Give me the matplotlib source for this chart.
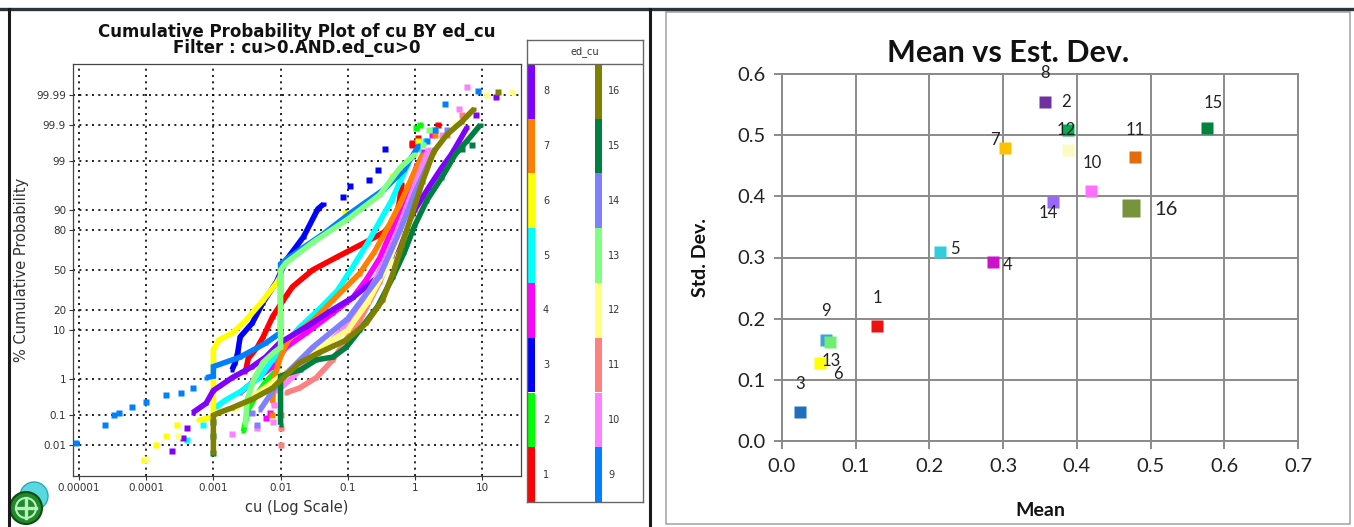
import numpy as np
import matplotlib
matplotlib.use("Agg")
import matplotlib.pyplot as plt
from matplotlib.patches import Rectangle, Circle
from matplotlib.lines import Line2D
from matplotlib.ticker import NullLocator, FixedLocator, FixedFormatter, FormatStrFormatter
from statistics import NormalDist

W, H, DPI = 1354, 527, 100

# ---------------------------------------------------------------------------
# Cumulative probability curves of cu, one per ed_cu domain: (cu, cumulative %)
# ---------------------------------------------------------------------------
domains = list(range(1, 17))
domain_colors = ['#ff0000', '#00ff00', '#0000ff', '#ff00ff', '#00ffff', '#ffff00',
                 '#ff8000', '#8000ff', '#0080ff', '#ff80ff', '#ff8080', '#ffff80',
                 '#80ff80', '#8080ff', '#008040', '#808000']

curve_1 = [(0.003, 1.5), (0.0033, 3), (0.0045, 5), (0.0055, 7.7), (0.0076, 16), (0.011, 26),
           (0.015, 36), (0.03, 50), (0.07, 61), (0.18, 72), (0.35, 79), (0.5, 86), (0.58, 92),
           (0.64, 96.6)]
tail_1 = [(0.9, 99.6), (0.92, 99.65), (1.1, 99.75), (2.2, 99.9)]

curve_2 = [(0.0028, 0.03), (0.003, 0.06), (0.0033, 0.15), (0.0042, 0.35), (0.0058, 0.8),
           (0.0085, 1.6)]
tail_2 = [(1.05, 99.87), (1.2, 99.9)]

curve_3 = [(0.0019, 1.7), (0.0021, 2.4), (0.0023, 3.9), (0.0025, 7.7), (0.0038, 13),
           (0.0054, 24), (0.0087, 40), (0.012, 58), (0.022, 76), (0.036, 90.3), (0.044, 92)]
tail_3 = [(0.084, 94), (0.107, 96.3), (0.206, 97.2), (0.28, 98.3), (0.36, 99.5)]

curve_4 = [(0.0025, 0.45), (0.0043, 1), (0.0076, 2), (0.012, 5), (0.024, 9), (0.06, 18),
           (0.12, 28), (0.19, 42), (0.3, 60), (0.45, 80), (0.6, 90), (0.8, 96), (1.1, 98.8)]
tail_4 = [(0.006, 0.08), (0.007, 0.12), (1.3, 99.4), (1.8, 99.8)]

curve_5 = [(0.0011, 0.18), (0.0015, 0.28), (0.0025, 0.48), (0.0049, 1.1), (0.0076, 2.8),
           (0.012, 6), (0.019, 11), (0.037, 20), (0.07, 33), (0.12, 53), (0.2, 72), (0.3, 85),
           (0.45, 93), (0.6, 97), (0.8, 98.8)]
tail_5 = [(0.0004, 0.015), (0.0007, 0.05), (1.1, 99.5), (1.4, 99.7), (2.0, 99.85)]

curve_6 = [(0.0006, 0.07), (0.001, 0.09), (0.001, 1), (0.001, 4.5), (0.0012, 6.8), (0.0019, 9),
           (0.003, 14), (0.0055, 26), (0.0087, 39), (0.01, 45)]
tail_6 = [(0.000094, 0.0027), (0.00014, 0.01), (0.0002, 0.02), (0.00029, 0.05), (0.09, 88.7),
          (0.46, 97.7), (1.1, 99.7)]

curve_7 = [(0.0076, 0.23), (0.008, 1), (0.0096, 2.8), (0.013, 7), (0.03, 14), (0.06, 26),
           (0.15, 47), (0.25, 65), (0.4, 82), (0.6, 92), (0.9, 97.5), (1.3, 99.3)]
tail_7 = [(0.0075, 0.1), (2.0, 99.8)]

curve_8 = [(0.00049, 0.12), (0.00078, 0.23), (0.001, 0.52), (0.0019, 1.1), (0.0038, 2),
           (0.006, 3.2), (0.0096, 6), (0.024, 11.3), (0.06, 20), (0.12, 28), (0.28, 44),
           (0.45, 62), (0.7, 80), (1.0, 90), (1.6, 96), (2.5, 98.5), (3.5, 99.3), (4.6, 99.7),
           (6, 99.88)]
tail_8 = [(0.00024, 0.006), (0.00035, 0.0175), (0.0004, 0.04), (8, 99.95), (16, 99.988)]

curve_9 = [(0.00078, 1.1), (0.001, 1.2), (0.001, 2), (0.0025, 3.2), (0.006, 6), (0.009, 8.4),
           (0.01, 9), (0.01, 55), (0.0137, 61), (0.044, 78), (0.11, 88.7), (0.35, 95.7),
           (0.7, 98.4), (1.15, 99.6)]
tail_9 = [(0.000009, 0.012), (0.000024, 0.05), (0.000033, 0.1), (0.00004, 0.12),
          (0.000062, 0.18), (0.0001, 0.25), (0.0002, 0.4), (0.00033, 0.45), (0.0005, 0.6),
          (1.5, 99.7), (2.0, 99.85), (2.8, 99.98), (8.8, 99.993)]

curve_10 = [(0.009, 0.5), (0.03, 3), (0.1, 12), (0.25, 40), (0.5, 75), (0.9, 95), (1.6, 99.5)]
tail_10 = [(0.0019, 0.025), (0.0045, 0.04), (0.0076, 0.06), (0.008, 0.2), (2.5, 99.8),
           (4.5, 99.97), (6, 99.995)]

curve_11 = [(0.012, 0.45), (0.019, 0.6), (0.034, 1.1), (0.06, 2.8), (0.095, 7), (0.15, 14),
            (0.3, 40), (0.5, 70), (0.8, 90), (1.2, 97), (2, 99.5)]
tail_11 = [(0.01, 0.01), (0.01, 0.04), (0.01, 0.1), (3, 99.8), (5, 99.95)]

curve_12 = [(0.002, 0.15), (0.005, 0.5), (0.01, 1.2), (0.03, 4), (0.1, 10), (0.2, 25),
            (0.4, 55), (0.7, 85), (1.2, 97), (2, 99.5)]
tail_12 = [(0.0001, 0.003), (0.0003, 0.02), (4, 99.9), (12, 99.99), (28, 99.992)]

curve_13 = [(0.003, 0.05), (0.0032, 0.3), (0.004, 1), (0.0055, 2.5), (0.008, 4), (0.01, 5),
            (0.01, 50), (0.012, 56), (0.03, 72), (0.1, 86), (0.3, 94.5), (0.6, 98.5),
            (1.0, 99.3)]
tail_13 = [(1.3, 99.6), (1.6, 99.85)]

curve_14 = [(0.005, 0.15), (0.01, 1), (0.03, 5), (0.1, 15), (0.3, 45), (0.6, 80), (1, 95),
            (2, 99.5)]
tail_14 = [(0.0038, 0.12), (0.0045, 0.05), (3, 99.85)]

curve_15 = [(0.01, 0.05), (0.01, 1.2), (0.013, 1.4), (0.02, 1.7), (0.034, 2.8), (0.06, 3.2),
            (0.095, 5), (0.15, 10), (0.28, 22), (0.47, 44), (0.7, 65), (1, 83), (1.5, 93),
            (2.5, 97.5), (4, 99.3), (6, 99.7), (9.5, 99.9)]
tail_15 = [(0.001, 0.005), (0.001, 0.02), (0.001, 0.06), (5, 99.5), (7, 99.6)]

curve_16 = [(0.001, 0.005), (0.001, 0.1), (0.0012, 0.12), (0.0019, 0.17), (0.0038, 0.3),
            (0.0076, 0.6), (0.011, 1.1), (0.019, 2.4), (0.037, 3.9), (0.095, 6.8), (0.19, 13),
            (0.33, 26), (0.47, 47), (0.64, 70), (0.9, 88), (1.3, 97), (1.9, 99.4), (3, 99.8),
            (5, 99.92), (7.7, 99.97)]
tail_16 = [(17, 99.992)]

curves = [curve_1, curve_2, curve_3, curve_4, curve_5, curve_6, curve_7, curve_8,
          curve_9, curve_10, curve_11, curve_12, curve_13, curve_14, curve_15, curve_16]
tails = [tail_1, tail_2, tail_3, tail_4, tail_5, tail_6, tail_7, tail_8,
         tail_9, tail_10, tail_11, tail_12, tail_13, tail_14, tail_15, tail_16]

prob_ticks = [0.01, 0.1, 1, 10, 20, 50, 80, 90, 99, 99.9, 99.99]
prob_tick_labels = ['0.01', '0.1', '1', '10', '20', '50', '80', '90', '99', '99.9', '99.99']
cu_ticks = [0.00001, 0.0001, 0.001, 0.01, 0.1, 1, 10]
cu_tick_labels = ['0.00001', '0.0001', '0.001', '0.01', '0.1', '1', '10']

# ---------------------------------------------------------------------------
# Mean vs standard deviation per domain
# ---------------------------------------------------------------------------
stat_domain = [1, 2, 3, 4, 5, 6, 7, 8, 9, 10, 11, 12, 13, 14, 15, 16]
stat_mean = [0.129, 0.388, 0.024, 0.286, 0.214, 0.052, 0.303, 0.357,
             0.060, 0.419, 0.479, 0.388, 0.065, 0.368, 0.577, 0.474]
stat_std = [0.188, 0.508, 0.047, 0.292, 0.309, 0.127, 0.479, 0.554,
            0.165, 0.408, 0.464, 0.475, 0.162, 0.390, 0.511, 0.381]
stat_colors = ['#ee1111', '#00b050', '#1f6fc0', '#cc11cc', '#33ccdd', '#ffff00', '#ffc000',
               '#7030a0', '#40a0e0', '#ff70ff', '#e46c0a', '#fcfac4', '#70ee70', '#9966ff',
               '#00843c', '#77933c']
# label offsets in pixels from each marker
label_offsets = [(0, 28), (-2, 28), (0, 28), (15, -3), (15, 3), (18, -11), (-10, 8), (0, 29),
                 (0, 29), (1, 28), (0, 27), (-2, 20), (1, -19), (-5, -11), (6, 25), (35, -2)]


def px_rect(x0, y0, x1, y1):
    """Figure-fraction rectangle from pixel box (top-left origin)."""
    return [x0 / W, 1 - y1 / H, (x1 - x0) / W, (y1 - y0) / H]


fig = plt.figure(figsize=(W / DPI, H / DPI), dpi=DPI)
fig.patch.set_facecolor('white')

# ---------------- probability plot ----------------
nd = NormalDist()
_inv = np.vectorize(nd.inv_cdf, otypes=[float])
_cdf = np.vectorize(nd.cdf, otypes=[float])


def pct_to_z(p):
    p = np.asarray(p, dtype=float)
    q = np.clip(p / 100.0, 1e-12, 1 - 1e-12)
    return _inv(q)


def z_to_pct(z):
    return 100.0 * _cdf(np.asarray(z, dtype=float))


sans = ['DejaVu Sans']
ax1 = fig.add_axes(px_rect(73, 64, 521, 476))
ax1.set_xscale('log')
ax1.set_yscale('function', functions=(pct_to_z, z_to_pct))

for i, dom in enumerate(domains):
    cu, pc = zip(*curves[i])
    ax1.plot(cu, pc, '-', color=domain_colors[i], lw=4.0, solid_capstyle='butt',
             solid_joinstyle='miter', marker='s', ms=3.0, mec='none', zorder=3 + i * 0.01)
    if tails[i]:
        tc, tp = zip(*tails[i])
        ax1.plot(tc, tp, 's', color=domain_colors[i], ms=4.0, mec='none', ls='none',
                 zorder=3 + i * 0.01)

ax1.set_xlim(10 ** -5.09, 10 ** 1.58)
ax1.set_ylim(z_to_pct(-4.38), z_to_pct(4.38))
ax1.xaxis.set_major_locator(FixedLocator(cu_ticks))
ax1.xaxis.set_major_formatter(FixedFormatter(cu_tick_labels))
ax1.xaxis.set_minor_locator(NullLocator())
ax1.yaxis.set_major_locator(FixedLocator(prob_ticks))
ax1.yaxis.set_major_formatter(FixedFormatter(prob_tick_labels))
ax1.yaxis.set_minor_locator(NullLocator())
ax1.grid(True, which='major', color='black', lw=1.2, ls=(0, (1.2, 2.6)), zorder=1)
ax1.set_axisbelow(True)
ax1.tick_params(axis='both', direction='out', length=3, width=0.8, color='#333333',
                labelsize=7.5, labelcolor='#333333', pad=2)
for lab in ax1.get_xticklabels() + ax1.get_yticklabels():
    lab.set_fontfamily(sans)
for sp in ax1.spines.values():
    sp.set_color('#444444')
    sp.set_linewidth(0.9)
ax1.set_xlabel('cu (Log Scale)', fontsize=10.5, family=sans, color='#333333', labelpad=5)
ax1.set_ylabel('% Cumulative Probability', fontsize=10.5, family=sans, color='#333333',
               labelpad=5)

fig.text(297 / W, 1 - 32 / H, 'Cumulative Probability Plot of cu BY ed_cu', ha='center',
         va='center', fontsize=12, fontweight='bold', family=sans, color='#111111')
fig.text(297 / W, 1 - 48 / H, 'Filter : cu>0.AND.ed_cu>0', ha='center', va='center',
         fontsize=12, fontweight='bold', family=sans, color='#111111')

# ---------------- domain colour key ----------------
axk = fig.add_axes(px_rect(527, 40, 643, 502))
axk.set_xlim(527, 643)
axk.set_ylim(502, 40)
axk.set_xticks([])
axk.set_yticks([])
for sp in axk.spines.values():
    sp.set_color('#666666')
    sp.set_linewidth(1.0)
axk.axhline(64, color='#666666', lw=1.0)
axk.text(585, 52, 'ed_cu', ha='center', va='center', fontsize=7, family=sans, color='#333333')
row_h = (502 - 64) / 8
for i, dom in enumerate(domains):
    col = 0 if dom <= 8 else 1
    row = 7 - ((dom - 1) % 8)
    x0 = 528 if col == 0 else 595
    y0 = 64 + row * row_h
    axk.add_patch(Rectangle((x0, y0), 7, row_h, facecolor=domain_colors[i], edgecolor='none'))
    axk.text(x0 + 15 if col == 0 else x0 + 13, y0 + row_h / 2, str(dom), ha='left',
             va='center', fontsize=7, family=sans, color='#333333')

# ---------------- mean vs std scatter ----------------
calib = ['Lato', 'DejaVu Sans']
ax2 = fig.add_axes(px_rect(782, 74, 1298, 441))
for i, dom in enumerate(stat_domain):
    big = dom == 16
    ax2.plot(stat_mean[i], stat_std[i], 's', color=stat_colors[i], ms=12.5 if big else 9,
             mec='none', zorder=3)
for i, dom in enumerate(stat_domain):
    dx, dy = label_offsets[i]
    ax2.annotate(str(dom), (stat_mean[i], stat_std[i]), xytext=(dx, dy),
                 textcoords='offset pixels', ha='center', va='center',
                 fontsize=14.5 if dom == 16 else 12, family=calib, color='#222222', zorder=4)

ax2.set_xlim(0, 0.7)
ax2.set_ylim(0, 0.6)
ax2.set_xticks(np.arange(0, 0.71, 0.1))
ax2.set_yticks(np.arange(0, 0.61, 0.1))
ax2.xaxis.set_major_formatter(FormatStrFormatter('%.1f'))
ax2.yaxis.set_major_formatter(FormatStrFormatter('%.1f'))
ax2.grid(True, color='#8a8a8a', lw=1.4, zorder=1)
ax2.set_axisbelow(True)
ax2.tick_params(axis='both', direction='out', length=6, width=1.4, color='#8a8a8a',
                labelsize=14.5, labelcolor='#222222', pad=6)
for lab in ax2.get_xticklabels() + ax2.get_yticklabels():
    lab.set_fontfamily(calib)
for sp in ax2.spines.values():
    sp.set_color('#8a8a8a')
    sp.set_linewidth(1.4)
ax2.set_xlabel('Mean', fontsize=14, fontweight='bold', family=calib, color='#111111',
               labelpad=20)
ax2.set_ylabel('Std. Dev.', fontsize=14, fontweight='bold', family=calib, color='#111111',
               labelpad=20)
fig.text(1008 / W, 1 - 53 / H, 'Mean vs Est. Dev.', ha='center', va='center', fontsize=22,
         fontweight='bold', family=calib, color='#111111')

# ---------------- panel frames and badge ----------------
axo = fig.add_axes([0, 0, 1, 1], zorder=10)
axo.set_xlim(0, W)
axo.set_ylim(H, 0)
axo.axis('off')
axo.patch.set_alpha(0)
axo.add_line(Line2D([0, W], [9, 9], color='#2b333b', lw=2.4))
axo.add_line(Line2D([8.5, 8.5], [9, H], color='#1a1a1a', lw=2.2))
axo.add_line(Line2D([650, 650], [9, H], color='#1a1a1a', lw=2.2))
axo.add_patch(Rectangle((666, 12), 684, 512, facecolor='none', edgecolor='#a0a0a0', lw=1.1))
axo.add_patch(Circle((34, 496), 14, facecolor='#5ad8e0', edgecolor='#2aa8b8', lw=1.0))
axo.add_patch(Circle((26, 508), 16, facecolor='#1f8a2a', edgecolor='#0c4d12', lw=1.5))
axo.add_line(Line2D([16, 36], [508, 508], color='#b8f0c0', lw=2.4))
axo.add_line(Line2D([26, 26], [498, 518], color='#b8f0c0', lw=2.4))
axo.add_patch(Circle((26, 508), 10, facecolor='none', edgecolor='#b8f0c0', lw=1.5))

fig.savefig('out.png', dpi=DPI, facecolor='white')
